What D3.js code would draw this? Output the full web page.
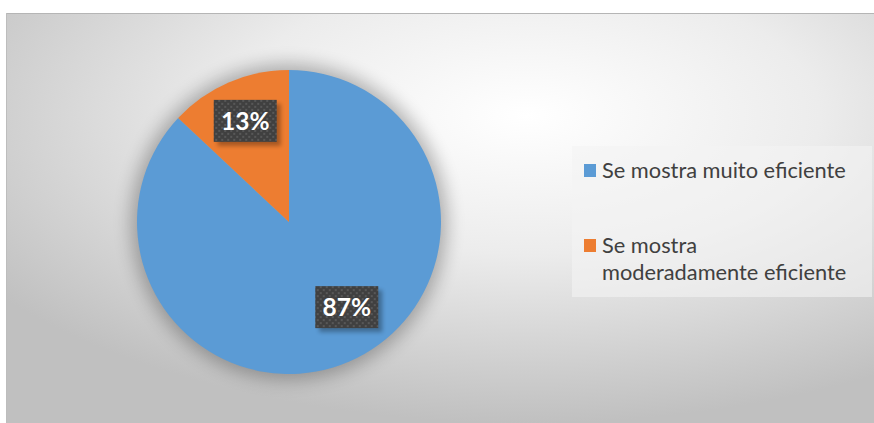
<!DOCTYPE html>
<html>
<head>
<meta charset="utf-8">
<script src="https://cdn.jsdelivr.net/npm/d3@7"></script>
<style>
  body { margin: 0; background: #fff; }
  svg text { font-family: Lato, "Open Sans", sans-serif; }
</style>
</head>
<body>
<div id="visual"></div>
<script>
/* pie: share of answers */
var categories = ["Se mostra muito eficiente", "Se mostra moderadamente eficiente"];
var values = [87, 13];
var colors = ["#5B9BD5", "#ED7D31"];
// legend lines (second entry wraps onto two lines)
var legendLines = [["Se mostra muito eficiente"], ["Se mostra", "moderadamente eficiente"]];

var width = 874, height = 423;
var frame = {x: 6, y: 13, w: 868, h: 410};
var cx = 289, cy = 222, radius = 152;

var svg = d3.select("#visual").append("svg")
    .attr("width", width)
    .attr("height", height);

var defs = svg.append("defs");

var bg = defs.append("radialGradient")
    .attr("id", "bgGrad")
    .attr("cx", 0.6).attr("cy", 0.25).attr("r", 0.75)
    .attr("fx", 0.6).attr("fy", 0.25);
bg.append("stop").attr("offset", "0%").attr("stop-color", "#ffffff");
bg.append("stop").attr("offset", "45%").attr("stop-color", "#ececec");
bg.append("stop").attr("offset", "100%").attr("stop-color", "#c0c0c0");

defs.append("filter").attr("id", "halo")
    .attr("x", "-30%").attr("y", "-30%").attr("width", "160%").attr("height", "160%")
    .append("feGaussianBlur").attr("stdDeviation", 9);

defs.append("filter").attr("id", "boxShadow")
    .attr("x", "-30%").attr("y", "-30%").attr("width", "160%").attr("height", "160%")
    .append("feGaussianBlur").attr("stdDeviation", 2);

var pat = defs.append("pattern")
    .attr("id", "dots")
    .attr("width", 6).attr("height", 6)
    .attr("patternUnits", "userSpaceOnUse");
pat.append("rect").attr("width", 6).attr("height", 6).attr("fill", "#404040");
pat.append("rect").attr("x", 0).attr("y", 0).attr("width", 2).attr("height", 2).attr("fill", "#585858");
pat.append("rect").attr("x", 3).attr("y", 3).attr("width", 2).attr("height", 2).attr("fill", "#585858");

// chart area
svg.append("rect")
    .attr("x", frame.x).attr("y", frame.y)
    .attr("width", frame.w).attr("height", frame.h)
    .attr("fill", "url(#bgGrad)");
svg.append("line")
    .attr("x1", frame.x).attr("x2", frame.x + frame.w)
    .attr("y1", frame.y + 0.5).attr("y2", frame.y + 0.5)
    .attr("stroke", "#b5b5b5");
svg.append("line")
    .attr("x1", frame.x + 0.5).attr("x2", frame.x + 0.5)
    .attr("y1", frame.y).attr("y2", frame.y + frame.h)
    .attr("stroke", "#bdbdbd");

var g = svg.append("g")
    .attr("transform", "translate(" + cx + "," + cy + ")");

// soft shadow behind the pie
g.append("circle")
    .attr("r", radius + 6)
    .attr("fill", "#000")
    .attr("opacity", 0.28)
    .attr("filter", "url(#halo)");

var pie = d3.pie().sort(null).value(function (d) { return d; });
var arcs = pie(values);

var arc = d3.arc().innerRadius(0).outerRadius(radius);

g.selectAll(".slice")
    .data(arcs)
    .enter().append("path")
    .attr("class", "slice")
    .attr("d", arc)
    .attr("fill", function (d, i) { return colors[i]; });

// data labels (Excel "best fit" puts them a bit off the centroid)
var labelArc = d3.arc().innerRadius(0).outerRadius(radius * 1.45);
var nudge = [[14, -16], [0, 0]];
var boxW = 63, boxH = 42;

var lab = g.selectAll(".lab")
    .data(arcs)
    .enter().append("g")
    .attr("class", "lab")
    .attr("transform", function (d, i) {
        var c = labelArc.centroid(d);
        return "translate(" + (c[0] + nudge[i][0]) + "," + (c[1] + nudge[i][1]) + ")";
    });

lab.append("rect")
    .attr("x", -boxW / 2 + 4).attr("y", -boxH / 2 + 4)
    .attr("width", boxW).attr("height", boxH)
    .attr("fill", "#000").attr("opacity", 0.3)
    .attr("filter", "url(#boxShadow)");
lab.append("rect")
    .attr("x", -boxW / 2).attr("y", -boxH / 2)
    .attr("width", boxW).attr("height", boxH)
    .attr("fill", "url(#dots)");
lab.append("text")
    .attr("text-anchor", "middle")
    .attr("dy", "0.36em")
    .attr("fill", "#fff")
    .style("font-size", "24.5px")
    .style("font-weight", "bold")
    .text(function (d) { return d.data + "%"; });

// legend
svg.append("rect")
    .attr("x", 572).attr("y", 146)
    .attr("width", 300).attr("height", 151)
    .attr("fill", "#f4f4f4").attr("opacity", 0.6);

var legY = d3.scalePoint().domain(categories).range([178, 253]);

var leg = svg.selectAll(".leg")
    .data(categories)
    .enter().append("g")
    .attr("class", "leg")
    .attr("transform", function (d) { return "translate(584," + legY(d) + ")"; });

leg.append("rect")
    .attr("x", 0).attr("y", -14)
    .attr("width", 12).attr("height", 13)
    .attr("fill", function (d, i) { return colors[i]; });

leg.append("text")
    .attr("x", 18)
    .attr("fill", "#404040")
    .style("font-size", "21.8px")
    .selectAll("tspan")
    .data(function (d, i) { return legendLines[i]; })
    .enter().append("tspan")
    .attr("x", 18)
    .attr("dy", function (d, j) { return j === 0 ? 0 : 27; })
    .text(function (d) { return d; });
</script>
</body>
</html>
